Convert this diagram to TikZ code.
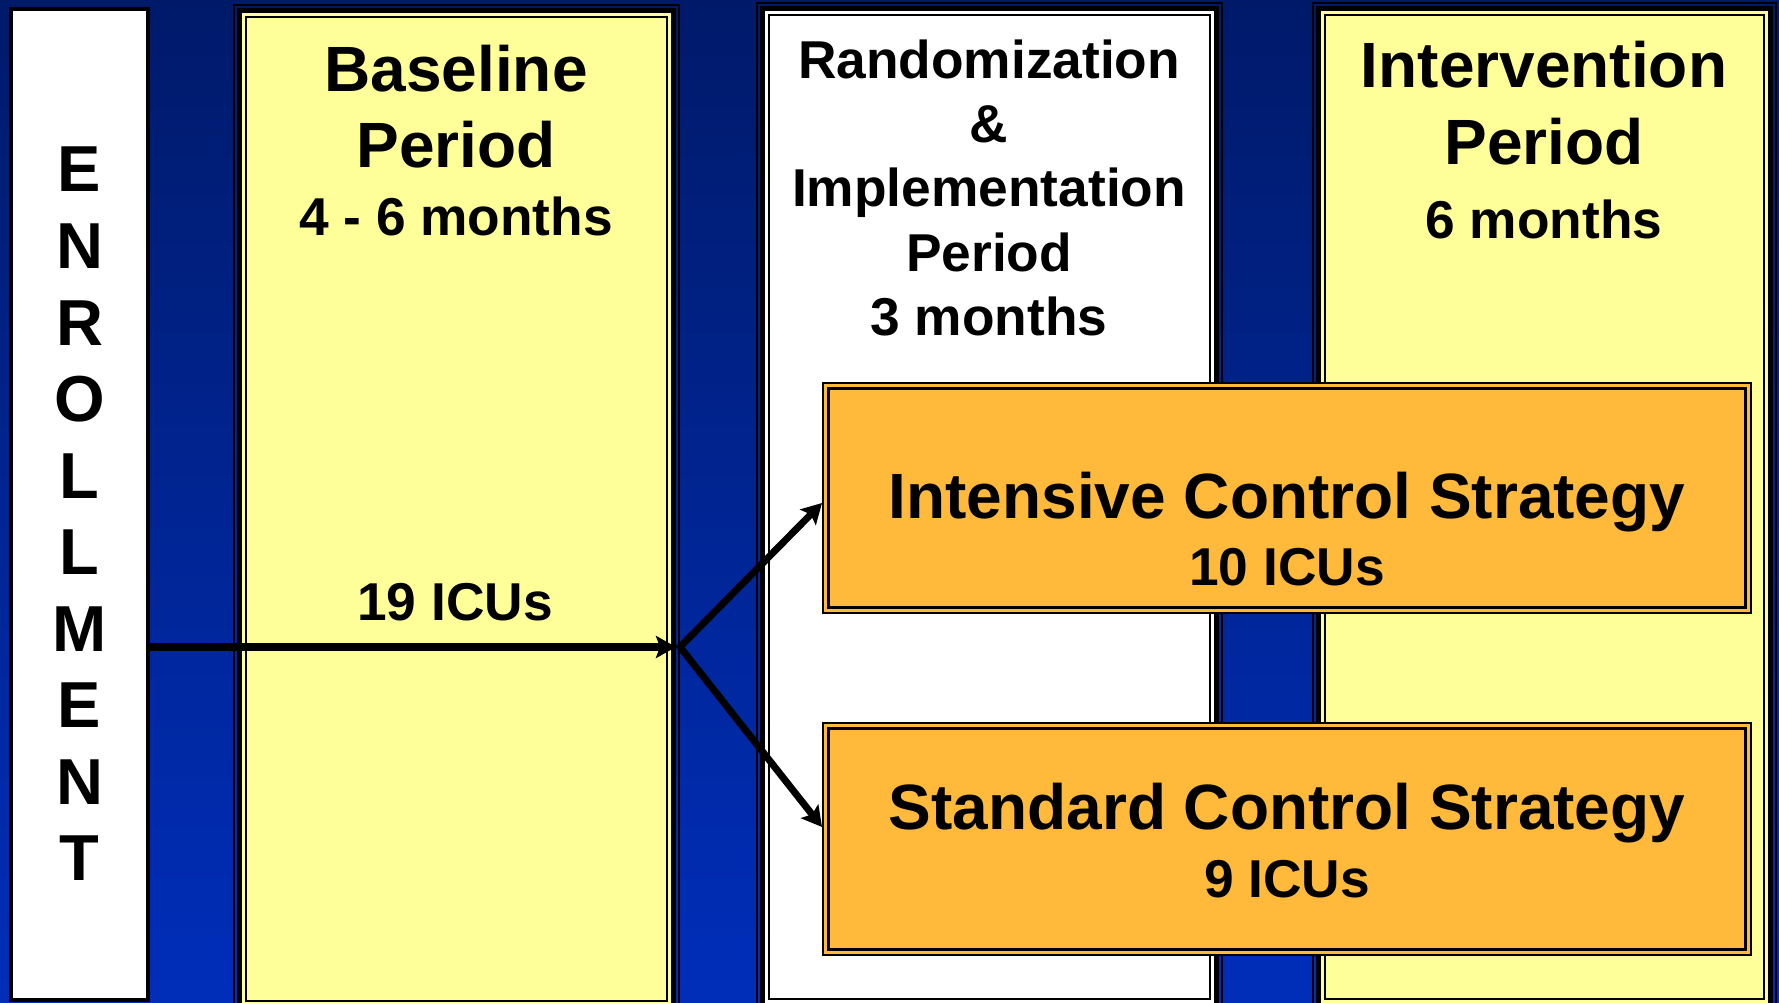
\documentclass[tikz,border=0pt]{standalone}
\usepackage{fontspec}
\setmainfont{Liberation Sans}
\usetikzlibrary{arrows.meta,calc}
\definecolor{bgtop}{HTML}{001A6A}
\definecolor{bgmid}{HTML}{0024A0}
\definecolor{bgbot}{HTML}{002EBA}
\definecolor{paleyellow}{HTML}{FFFF99}
\definecolor{boxorange}{HTML}{FFBA3C}
\tikzset{pxtip/.tip={Stealth[length=20pt,width=22pt,inset=4pt]}}
% compound frame of the period columns: #1 node, #2 fill colour
\newcommand\pxcolframe[2]{%
  \draw[line width=2pt] ([shift={(1,-1)}]#1.north west) rectangle ([shift={(-1,1)}]#1.south east);
  \fill[black] ([shift={(4,-4)}]#1.north west) rectangle ([shift={(-4,4)}]#1.south east);
  \fill[#2] ([shift={(9,-9)}]#1.north west) rectangle ([shift={(-9,9)}]#1.south east);
  \draw[line width=2pt] ([shift={(13,-13)}]#1.north west) rectangle ([shift={(-13,13)}]#1.south east);
}
% frame of the strategy boxes
\newcommand\pxorframe[1]{%
  \fill[boxorange] (#1.north west) rectangle (#1.south east);
  \draw[line width=2pt] ([shift={(1,-1)}]#1.north west) rectangle ([shift={(-1,1)}]#1.south east);
  \draw[line width=3pt] ([shift={(6.5,-6.5)}]#1.north west) rectangle ([shift={(-6.5,6.5)}]#1.south east);
}
\begin{document}
\begin{tikzpicture}[x=1pt,y=1pt,
  box/.style={draw=none,inner sep=0pt,outer sep=0pt,anchor=north west},
  hd/.style={anchor=base,inner sep=0pt,font=\fontsize{64}{70}\selectfont\bfseries},
  sub/.style={anchor=base,inner sep=0pt,font=\fontsize{53.3}{60}\selectfont\bfseries},
  enr/.style={anchor=base,inner sep=0pt,font=\fontsize{65}{70}\selectfont\bfseries},
  conn/.style={line cap=butt,line join=miter}]
\useasboundingbox (0,0) rectangle (1779,-1003);
\begin{scope}
\clip (0,0) rectangle (1779,-1003);
\shade[top color=bgtop,middle color=bgmid,bottom color=bgbot] (0,0) rectangle (1779,-1003);

% boxes
\node[box,minimum width=141pt,minimum height=995pt] (enroll) at (9,-7) {};
\node[box,minimum width=447pt,minimum height=1010pt] (base) at (233,-4) {};
\node[box,minimum width=467pt,minimum height=1010pt] (rand) at (756,-2) {};
\node[box,minimum width=465pt,minimum height=1010pt] (interv) at (1312,-2) {};

\fill[white] (enroll.north west) rectangle (enroll.south east);
\draw[line width=4pt] ([shift={(2,-2)}]enroll.north west) rectangle ([shift={(-2,2)}]enroll.south east);
\pxcolframe{base}{paleyellow}
\pxcolframe{rand}{white}
\pxcolframe{interv}{paleyellow}

% enrollment text
\foreach \l [count=\i from 0] in {E,N,R,O,L,L,M,E,N,T}
  \node[enr] (e\i) at (79.5,{-192-76.5*\i}) {\l};

% column headings
\node[hd] (bl1) at (456,-92) {Baseline};
\node[hd] (bl2) at (456,-168) {Period};
\node[sub] (bl3) at (456,-235) {4 - 6 months};

\node[sub] (rd1) at (989,-79) {Randomization};
\node[sub] (rd2) at (989,-143) {\&};
\node[sub] (rd3) at (989,-207) {Implementation};
\node[sub] (rd4) at (989,-271) {Period};
\node[sub] (rd5) at (989,-335) {3 months};

\node[hd] (iv1) at (1544,-88) {Intervention};
\node[hd] (iv2) at (1544,-165) {Period};
\node[sub] (iv3) at (1544,-238) {6 months};

\node[sub] (icu) at (455,-620) {19 ICUs};

% strategy boxes
\node[box,minimum width=930pt,minimum height=232pt] (intens) at (822,-382) {};
\node[box,minimum width=930pt,minimum height=234pt] (stand) at (822,-722) {};
\pxorframe{intens}
\pxorframe{stand}

\node[hd] (in1) at (1287,-518) {Intensive Control Strategy};
\node[sub] (in2) at (1287,-585) {10 ICUs};
\node[hd] (st1) at (1287,-829) {Standard Control Strategy};
\node[sub] (st2) at (1287,-897) {9 ICUs};

% connectors
\coordinate (junc) at (680,-647);
\draw[conn,line width=8pt,-{pxtip}] (enroll.east |- junc) -- ([xshift=-4pt]junc);
\draw[conn,line width=7pt,{pxtip}-{pxtip}] ([yshift=-5pt]intens.west) -- (junc) -- ([yshift=12pt]stand.west);
\end{scope}
\end{tikzpicture}
\end{document}
